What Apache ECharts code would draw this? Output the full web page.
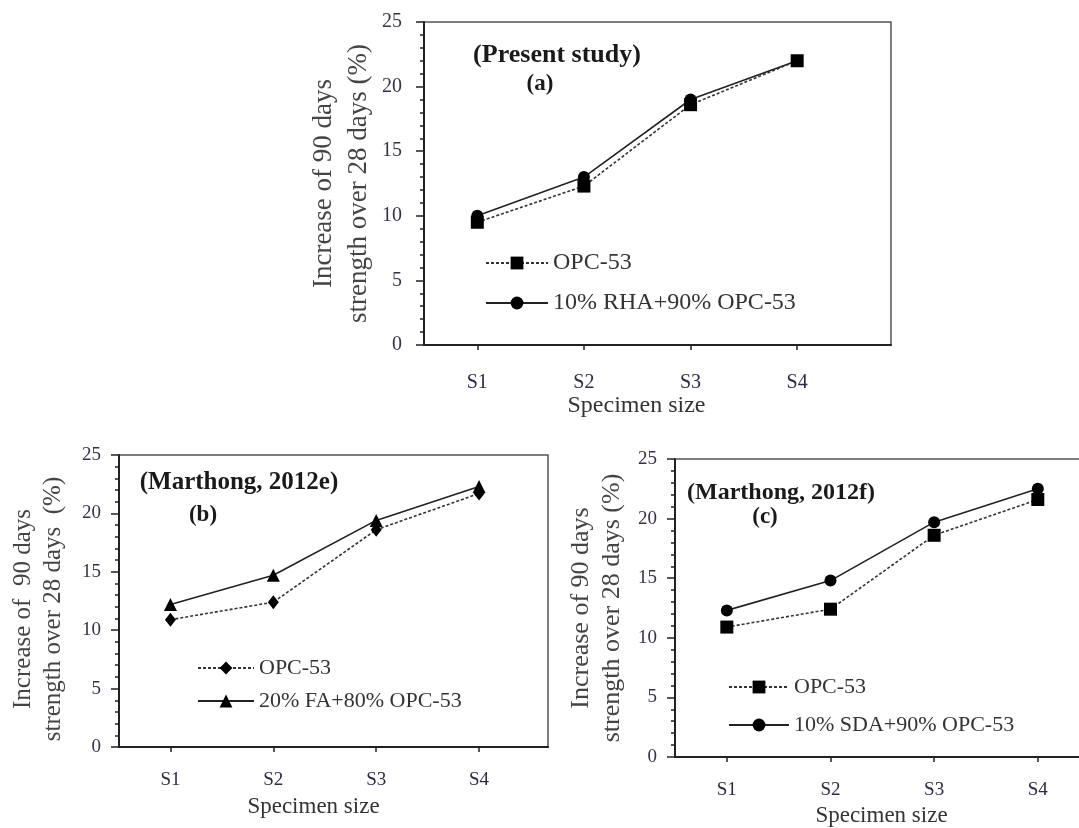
<!DOCTYPE html>
<html lang="en">
<head>
<meta charset="UTF-8" />
<title>Specimen size</title>
</head>
<body>
<style>
* { margin: 0; padding: 0; }
body { overflow: hidden; }
/* a bit wider than the window: panel (c) runs off the right edge like the source */
#chartEl { width: 1110px; height: 828px; background: #fff; }
</style>
<div id="chartEl"></div>
<script src="https://cdn.jsdelivr.net/npm/echarts@6/dist/echarts.min.js"></script>
<script>
// data
const sizes = ['S1', 'S2', 'S3', 'S4'];
const yTicks = [0, 5, 10, 15, 20, 25];
const opcA = [9.5, 12.3, 18.6, 22.0];
const rhaA = [10.0, 13.0, 19.0, 22.0];
const opcB = [10.9, 12.4, 18.6, 21.7];
const faB = [12.2, 14.7, 19.4, 22.3];
const opcC = [10.9, 12.4, 18.6, 21.6];
const sdaC = [12.3, 14.8, 19.7, 22.5];

const FONT = '"Liberation Serif", "Times New Roman", serif';
const catIdx = sizes.map((s, i) => i + 1);

function pts(vals) {
  return vals.map((v, i) => [i + 1, v]);
}

// one panel = grid + axes; sizes tuned per panel
const panels = [
  {
    grid: { left: 424, top: 22, width: 467, height: 323 },
    xMax: 4.88, tick: 20, text: 24, yText: 27, yGap: 48, yLine: 35, yShift: 0,
    labMargin: 28, yLabMargin: 22, xNamePad: 42, xNameGap: 48,
    yName: 'Increase of 90 days\nstrength over 28 days (%)'
  },
  {
    grid: { left: 119, top: 455, width: 429, height: 292 },
    xMax: 4.67, tick: 19, text: 23, yText: 25, yGap: 51, yLine: 30, yShift: 16,
    labMargin: 24, yLabMargin: 18, xNamePad: 40, xNameGap: 48,
    yName: 'Increase of  90 days\nstrength over 28 days  (%)'
  },
  {
    grid: { left: 675, top: 459, width: 425, height: 298 },
    xMax: 4.6, tick: 19, text: 23, yText: 26, yGap: 47, yLine: 31, yShift: 0,
    labMargin: 24, yLabMargin: 18, xNamePad: 12, xNameGap: 47,
    yName: 'Increase of 90 days\nstrength over 28 days (%)'
  }
];

const grids = panels.map(p => Object.assign({
  show: true,
  borderColor: '#555',
  borderWidth: 1.5,
  containLabel: false
}, p.grid));

const xAxes = panels.map((p, k) => ({
  type: 'value',
  gridIndex: k,
  min: 0.5,
  max: p.xMax,
  name: 'Specimen size',
  nameLocation: 'middle',
  nameGap: p.xNameGap,
  nameTextStyle: { fontFamily: FONT, fontSize: p.text, color: '#333', padding: [0, p.xNamePad, 0, 0] },
  axisLine: { show: true, lineStyle: { color: '#222', width: 2 } },
  axisTick: { show: true, length: 5, customValues: catIdx, lineStyle: { color: '#222', width: 1.5 } },
  axisLabel: {
    customValues: catIdx,
    margin: p.labMargin,
    fontFamily: FONT,
    fontSize: p.tick,
    color: '#2a2a44',
    formatter: v => sizes[Math.round(v) - 1] || ''
  },
  splitLine: { show: false }
}));

const yAxes = panels.map((p, k) => ({
  type: 'value',
  gridIndex: k,
  min: yTicks[0],
  max: yTicks[yTicks.length - 1],
  interval: yTicks[1] - yTicks[0],
  name: p.yName,
  nameLocation: 'middle',
  nameRotate: 90,
  nameGap: p.yGap,
  nameTextStyle: {
    fontFamily: FONT, fontSize: p.yText, color: '#444',
    lineHeight: p.yLine, align: 'center',
    padding: [0, p.yShift, 0, 0]
  },
  axisLine: { show: true, lineStyle: { color: '#222', width: 2 } },
  axisTick: { show: true, length: 8, lineStyle: { color: '#222', width: 1.5 } },
  minorTick: { show: true, splitNumber: 5, length: 4, lineStyle: { color: '#222', width: 1.5 } },
  axisLabel: { margin: p.yLabMargin, fontFamily: FONT, fontSize: p.tick, color: '#3a3048' },
  splitLine: { show: false },
  minorSplitLine: { show: false }
}));

function solid(name, k, vals, symbol, size) {
  return {
    name: name, type: 'line', xAxisIndex: k, yAxisIndex: k,
    data: pts(vals), symbol: symbol, symbolSize: size, z: 2,
    itemStyle: { color: '#000' },
    lineStyle: { color: '#222', width: 1.6, type: 'solid' }
  };
}
function dashed(name, k, vals, symbol, size) {
  return {
    name: name, type: 'line', xAxisIndex: k, yAxisIndex: k,
    data: pts(vals), symbol: symbol, symbolSize: size, z: 3,
    itemStyle: { color: '#000' },
    lineStyle: { color: '#333', width: 1.6, type: [3, 2] }
  };
}

const series = [
  solid('10% RHA+90% OPC-53 (a)', 0, rhaA, 'circle', 12),
  dashed('OPC-53 (a)', 0, opcA, 'rect', 13),
  solid('20% FA+80% OPC-53 (b)', 1, faB, 'triangle', 13),
  dashed('OPC-53 (b)', 1, opcB, 'diamond', [11, 14]),
  solid('10% SDA+90% OPC-53 (c)', 2, sdaC, 'circle', 12),
  dashed('OPC-53 (c)', 2, opcC, 'rect', 13)
];

function legend(names, left, top, w, font, gap) {
  return {
    orient: 'vertical', left: left, top: top, padding: 0,
    itemWidth: w, itemHeight: 16, itemGap: gap,
    selectedMode: false,
    data: names,
    formatter: n => n.replace(/ \(\w\)$/, ''),
    textStyle: { fontFamily: FONT, fontSize: font, lineHeight: font, color: '#333' }
  };
}

function label(text, x, y, size) {
  return {
    type: 'text', x: x, y: y,
    style: { text: text, font: 'bold ' + size + 'px ' + FONT, fill: '#1a1a1a', align: 'center', verticalAlign: 'middle' }
  };
}

const chart = echarts.init(document.getElementById('chartEl'));
chart.setOption({
  backgroundColor: '#fff',
  animation: false,
  grid: grids,
  xAxis: xAxes,
  yAxis: yAxes,
  legend: [
    legend(['OPC-53 (a)', '10% RHA+90% OPC-53 (a)'], 485, 251, 62, 24, 16),
    legend(['OPC-53 (b)', '20% FA+80% OPC-53 (b)'], 197, 657, 56, 22, 11),
    legend(['OPC-53 (c)', '10% SDA+90% OPC-53 (c)'], 728, 676, 60, 22, 16)
  ],
  graphic: [
    label('(Present study)', 557, 55, 26),
    label('(a)', 540, 84, 23),
    label('(Marthong, 2012e)', 239, 483, 25),
    label('(b)', 203, 515, 23),
    label('(Marthong, 2012f)', 781, 493, 24),
    label('(c)', 765, 517, 23)
  ],
  series: series
});
</script>
</body>
</html>
